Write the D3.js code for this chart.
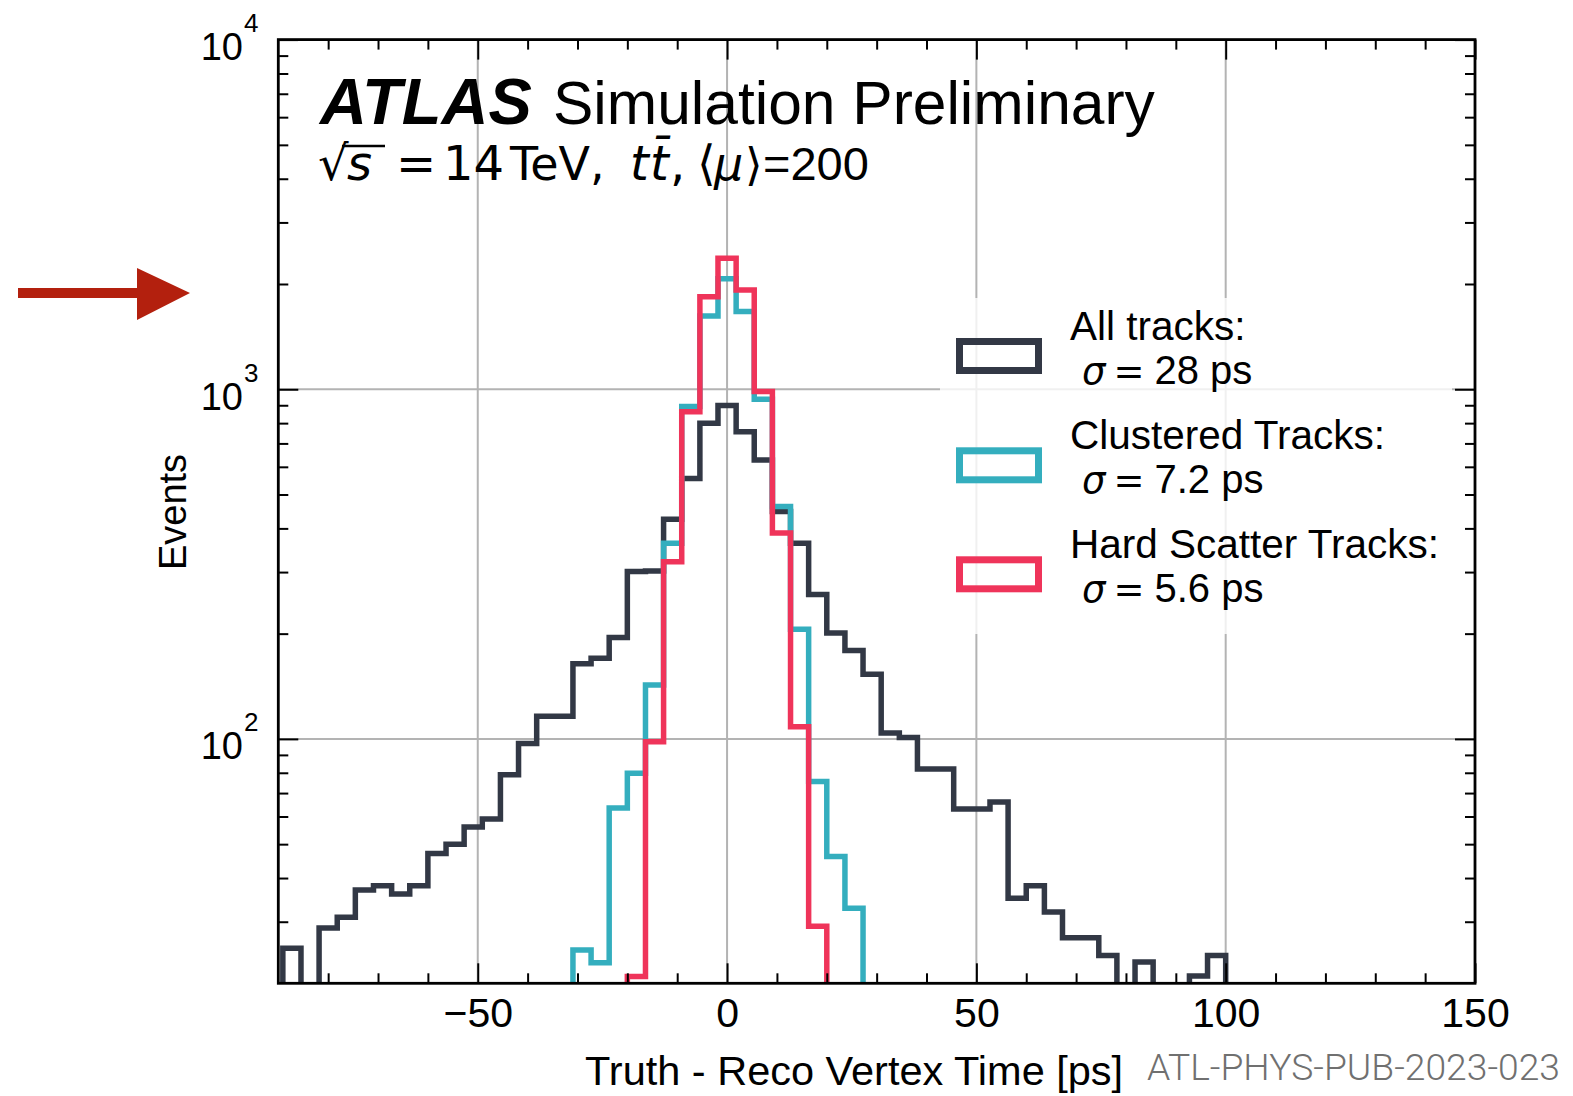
<!DOCTYPE html>
<html><head><meta charset="utf-8">
<script src="https://cdn.jsdelivr.net/npm/d3@7"></script>
<style>body{margin:0;background:#fff} svg{display:block}</style>
</head><body>
<script>
// ---------- data ----------
const binEdges = [-100,-96.36,-92.73,-89.09,-85.45,-81.82,-78.18,-74.55,-70.91,-67.27,-63.64,-60,-56.36,-52.73,-49.09,-45.45,-41.82,-38.18,-34.55,-30.91,-27.27,-23.64,-20,-16.36,-12.73,-9.09,-5.45,-1.82,1.82,5.45,9.09,12.73,16.36,20,23.64,27.27,30.91,34.55,38.18,41.82,45.45,49.09,52.73,56.36,60,63.64,67.27,70.91,74.55,78.18,81.82,85.45,89.09,92.73,96.36,100];
const allTracks = [0,0,0,25.2,0,28.8,30.9,37,38,36,38,47,50,56,59,79,97,116,116,164,170,195,301,302,425,556,799,898,756,628,447,363,259,201,179,153,104,101,82,82,63,63,66,35,38,32,27,27,24,0,23,0,0,21,24];
const clusteredTracks = [0,0,0,0,0,0,0,0,0,0,0,0,0,0,0,0,0,0,0,24.9,22.9,63.4,79.8,142.7,363,892,1620,2070,1670,936,462,206,75.5,46.1,32.8,0,0,0,0,0,0,0,0,0,0,0,0,0,0,0,0,0,0,0,0];
const hardScatterTracks = [0,0,0,0,0,0,0,0,0,0,0,0,0,0,0,0,0,0,0,0,0,0,20.9,98.2,321,863,1840,2371,1923,985,388,108.4,29.1,0,0,0,0,0,0,0,0,0,0,0,0,0,0,0,0,0,0,0,0,0,0];
const xMajorTicks = [-50,0,50,100,150];
const xMinorTicks = [-80,-70,-60,-40,-30,-20,-10,10,20,30,40,60,70,80,90,110,120,130,140];
const yMajorTicks = [100,1000,10000];
const yTickExponents = ["2","3","4"];
const yMinorTicks = [30,40,50,60,70,80,90,200,300,400,500,600,700,800,900,2000,3000,4000,5000,6000,7000,8000,9000];
const seriesNames = ["All tracks:","Clustered Tracks:","Hard Scatter Tracks:"];
const seriesSigmas = ["28 ps","7.2 ps","5.6 ps"];
const seriesColors = ["#323845","#34aebe","#ef345a"];

// ---------- layout ----------
const W=1573,H=1096;
const L=278.3,R=1475,T=39.6,B=983.3;
const svg = d3.select("body").append("svg").attr("width",W).attr("height",H)
  .style("font-family","'Liberation Sans', Arial, sans-serif");
const x = d3.scaleLinear().domain([-90,150]).range([L,R]);
const y = d3.scaleLog().domain([20,10000]).range([B,T]);

svg.append("defs").append("clipPath").attr("id","plotclip")
  .append("rect").attr("x",L).attr("y",T).attr("width",R-L).attr("height",B-T);

// grid
const grid = svg.append("g").attr("stroke","#b3b3b3").attr("stroke-width",2);
grid.selectAll("line.gx").data(xMajorTicks.filter(d=>d>-90&&d<150)).join("line")
  .attr("x1",d=>x(d)).attr("x2",d=>x(d)).attr("y1",T).attr("y2",B);
grid.selectAll("line.gy").data(yMajorTicks.filter(d=>d<10000)).join("line")
  .attr("y1",d=>y(d)).attr("y2",d=>y(d)).attr("x1",L).attr("x2",R);

// histograms
function stepPath(vals){
  const first = vals.findIndex(v=>v>0);
  let last = vals.length-1; while(last>0 && !(vals[last]>0)) last--;
  const yv = v => v>0 ? y(v) : B+4;
  const pts = [[x(binEdges[first]), B+10]];
  for(let k=first;k<=last;k++){
    pts.push([x(binEdges[k]), yv(vals[k])]);
    pts.push([x(binEdges[k+1]), yv(vals[k])]);
  }
  pts.push([x(binEdges[last+1]), B+10]);
  return d3.line()(pts);
}
const histG = svg.append("g").attr("clip-path","url(#plotclip)");
[allTracks, clusteredTracks, hardScatterTracks].forEach((vals,i)=>{
  histG.append("path").attr("d",stepPath(vals)).attr("fill","none")
    .attr("stroke",seriesColors[i]).attr("stroke-width",5.5).attr("stroke-linejoin","miter");
});

// ticks (inside, all four sides)
const tickG = svg.append("g");
function addAxis(axisGen, tx, ty){
  const g = tickG.append("g").attr("transform",`translate(${tx},${ty})`).call(axisGen);
  g.select(".domain").remove();
  g.selectAll(".tick line").attr("stroke","#000").attr("stroke-width",2);
  return g;
}
const xb = addAxis(d3.axisBottom(x).tickValues(xMajorTicks).tickSize(-20).tickFormat(d=>d<0?"\u2212"+Math.abs(d):String(d)),0,B);
xb.selectAll("text").attr("font-size",41).attr("font-family","'Liberation Sans', Arial, sans-serif").attr("fill","#000").attr("dy","0.71em").attr("y",15);
addAxis(d3.axisBottom(x).tickValues(xMinorTicks).tickSize(-10).tickFormat(""),0,B);
addAxis(d3.axisTop(x).tickValues(xMajorTicks).tickSize(-20).tickFormat(""),0,T);
addAxis(d3.axisTop(x).tickValues(xMinorTicks).tickSize(-10).tickFormat(""),0,T);
addAxis(d3.axisLeft(y).tickValues(yMajorTicks).tickSize(-20).tickFormat(""),L,0);
addAxis(d3.axisLeft(y).tickValues(yMinorTicks).tickSize(-10).tickFormat(""),L,0);
addAxis(d3.axisRight(y).tickValues(yMajorTicks).tickSize(-20).tickFormat(""),R,0);
addAxis(d3.axisRight(y).tickValues(yMinorTicks).tickSize(-10).tickFormat(""),R,0);

// y tick labels 10^n
const ylab = svg.append("g");
yMajorTicks.forEach((v,i)=>{
  ylab.append("text").attr("x",243).attr("y",y(v)+20.5).attr("text-anchor","end")
    .attr("font-size",38).text("10");
  ylab.append("text").attr("x",244).attr("y",y(v)-7.5).attr("font-size",26).text(yTickExponents[i]);
});

// frame
svg.append("rect").attr("x",L).attr("y",T).attr("width",R-L).attr("height",B-T)
  .attr("fill","none").attr("stroke","#000").attr("stroke-width",2.8);

// axis titles
svg.append("text").attr("transform",`translate(186,512) rotate(-90)`).attr("text-anchor","middle")
  .attr("font-size",38).text("Events");
svg.append("text").attr("x",585).attr("y",1085).attr("font-size",41.5).text("Truth - Reco Vertex Time [ps]");
svg.append("text").attr("x",1147).attr("y",1080).attr("font-size",36)
  .attr("font-family","Roboto, sans-serif").attr("font-weight",300).attr("fill","#707070")
  .attr("textLength",413).attr("lengthAdjust","spacingAndGlyphs").text("ATL-PHYS-PUB-2023-023");

// ATLAS label
svg.append("text").attr("x",320).attr("y",124).attr("font-size",65).attr("font-weight","bold")
  .attr("font-style","italic").text("ATLAS");
svg.append("text").attr("x",553).attr("y",124).attr("font-size",60.5).text("Simulation Preliminary");

// subtitle (math style) as one text with positioned pieces
const sub = svg.append("text").attr("y",180).attr("font-family","'DejaVu Sans', sans-serif").attr("font-size",48);
const subParts = [
  {t:"\u221A", x:318},
  {t:"s", x:347, it:true},
  {t:"=", x:396},
  {t:"14", x:443},
  {t:"TeV,", x:510, fs:46},
  {t:"t", x:630, it:true},
  {t:"t\u0304", x:650, it:true},
  {t:",", x:670},
  {t:"\u27E8", x:697},
  {t:"\u03BC", x:714, it:true, fs:46},
  {t:"\u27E9", x:745, fs:45},
  {t:"=200", x:763, fs:47, ff:"'Liberation Sans', Arial, sans-serif"}
];
subParts.forEach(p=>{
  const ts = sub.append("tspan").attr("x",p.x).text(p.t);
  if(p.it) ts.attr("font-style","italic");
  if(p.fs) ts.attr("font-size",p.fs);
  if(p.ff) ts.attr("font-family",p.ff);
});
svg.append("line").attr("x1",342).attr("x2",385).attr("y1",146).attr("y2",146).attr("stroke","#000").attr("stroke-width",2.6);

// legend
svg.append("rect").attr("x",940).attr("y",298).attr("width",512).attr("height",336)
  .attr("fill","#fff").attr("fill-opacity",0.8);
const legY = [356, 465.3, 574.3];
const leg = svg.append("g");
seriesNames.forEach((name,i)=>{
  leg.append("rect").attr("x",959.5).attr("y",legY[i]-14.5).attr("width",79).attr("height",29)
    .attr("fill","none").attr("stroke",seriesColors[i]).attr("stroke-width",7);
  leg.append("text").attr("x",1070).attr("y",legY[i]-16).attr("font-size",40.5).text(name);
  const t = leg.append("text").attr("x",1082).attr("y",legY[i]+27.5).attr("font-size",40);
  t.append("tspan").attr("font-family","'DejaVu Sans', sans-serif").attr("font-style","italic").attr("font-size",37).text("\u03C3");
  t.append("tspan").attr("font-family","'DejaVu Sans', sans-serif").attr("font-size",37).attr("dx",8).text("=");
  t.append("tspan").attr("dx",10).text(seriesSigmas[i]);
});

// red arrow annotation
svg.append("path").attr("d","M18,288 L137,288 L137,268 L190,293 L137,320 L137,298 L18,298 Z")
  .attr("fill","#b3200e");
</script>
</body></html>
